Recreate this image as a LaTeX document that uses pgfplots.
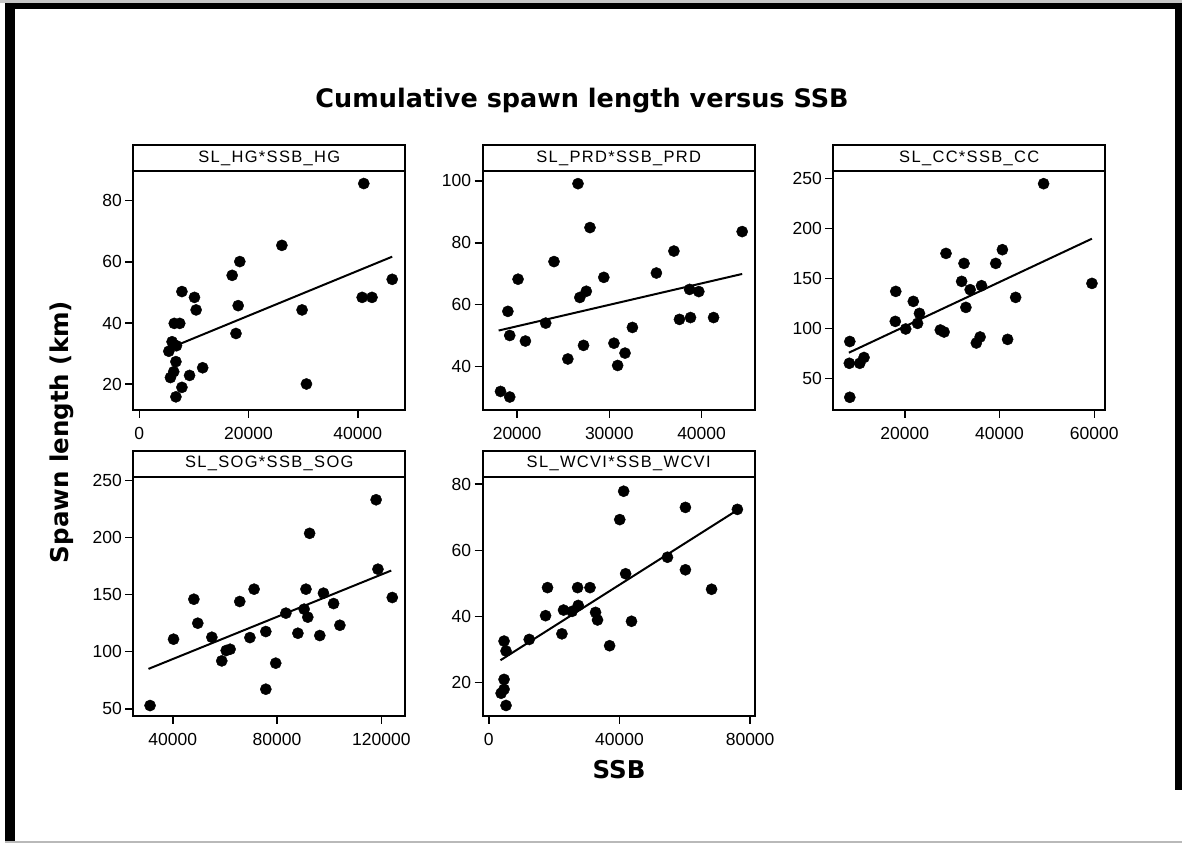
\documentclass[border=0pt]{standalone}
\usepackage{fontspec}
\setmainfont{Liberation Sans}
\newfontfamily\headfont{DejaVu Sans}
\newfontfamily\stripfont[LetterSpace=8]{Liberation Sans}
\usepackage{pgfplots}
\pgfplotsset{compat=1.18}
\usetikzlibrary{calc}

% spawn length (km) against SSB, one table per region
\pgfplotstableread{
x y
41100 85.6
26100 65.4
18400 60.1
17000 55.6
46300 54.3
7800 50.3
10100 48.4
10400 44.3
18100 45.7
40800 48.4
42600 48.4
29800 44.3
6400 39.9
7400 39.9
17700 36.6
6000 33.9
5400 30.8
6800 32.6
6700 27.4
6300 24.1
5700 22.2
9200 22.9
11600 25.4
30600 20.1
7800 19.0
6700 15.9
}\hg
\pgfplotstableread{
x y
26600 99.1
27900 84.9
44400 83.6
37000 77.3
24000 73.9
35100 70.2
20100 68.2
29400 68.8
27500 64.3
26800 62.3
38700 64.9
39700 64.2
19000 57.8
23100 54.0
37600 55.2
38800 55.8
41300 55.8
32500 52.6
19200 50.0
20900 48.2
27200 46.8
30500 47.5
31700 44.3
25500 42.4
30900 40.3
18200 31.9
19200 30.1
}\prd
\pgfplotstableread{
x y
49300 245
59500 145.3
40600 179
39200 165.3
32500 165.3
28700 175.3
32000 147.3
33800 139
36200 143
32900 121.3
43400 131.3
18100 137.3
21800 127.3
23100 115.3
22700 105.3
18000 107.3
20200 99.7
27500 98.7
28300 96.7
35100 85.7
35900 91.7
41700 89.3
8400 87.2
8300 65.4
10500 65.4
11400 71.2
8400 31.4
}\cc
\pgfplotstableread{
x y
31300 52.8
40300 110.9
48100 145.9
49600 124.9
55000 112.6
58800 91.9
60500 101
62000 102.1
65700 143.9
71200 154.7
69600 112.3
75700 117.6
75700 67.1
79500 89.9
83400 133.7
88000 116.1
90400 137.2
91100 154.7
91800 130.2
96400 114.1
97800 151.2
101700 142.1
104100 123.1
118700 172.2
124200 147.4
118000 233.0
92500 203.6
}\sog
\pgfplotstableread{
x y
41300 77.9
40100 69.3
60200 73.0
76100 72.4
54700 57.9
60200 54.1
41900 52.9
68200 48.2
18000 48.7
27200 48.7
31000 48.7
17400 40.2
22900 41.9
25500 41.5
27400 43.3
32700 41.2
33300 38.9
43700 38.5
22400 34.7
37000 31.1
12400 33.0
4700 32.5
5300 29.5
4700 20.9
4700 17.9
3800 16.7
5300 13.0
}\wcvi

\pgfplotsset{
  panel/.style={
    scale only axis, width=272pt, height=239pt,
    anchor=south west,
    axis line style={line width=2pt},
    tick style={line width=1.6pt, black},
    major tick length=8pt,
    tick align=outside,
    xtick pos=bottom, ytick pos=left,
    tick label style={font=\fontsize{17.5}{20}\selectfont},
    xticklabel style={yshift=-6pt},
    /pgf/number format/assume math mode=true,
    /pgf/number format/fixed,
    /pgf/number format/precision=0,
    /pgf/number format/1000 sep={},
    scaled ticks=false,
    clip=false,
  },
  dots/.style={only marks, mark=*, mark size=5.6pt, black},
  fit/.style={no marks, black, line width=2pt},
}

\newcommand{\strip}[2]{%
  \draw[line width=2pt, fill=white] (#1.north west) rectangle ([yshift=26pt]#1.north east);
  \node[font=\stripfont\fontsize{16.5}{18}\selectfont, inner sep=0pt]
    at ([yshift=13pt]$(#1.north west)!0.5!(#1.north east)$) {#2};%
}

\begin{document}
\begin{tikzpicture}[x=1pt, y=1pt]
% page frame
\useasboundingbox (0,0) rectangle (1182,846);
\fill[white] (0,0) rectangle (1182,846);
\fill[gray!45] (0,843) rectangle (1182,846);
\fill[black] (5,837) rectangle (1182,843);
\fill[black] (5,3) rectangle (15,843);
\fill[black] (1175,56) rectangle (1182,843);
\fill[gray!55] (5,3) rectangle (1182,5);

% row 1
\begin{axis}[panel, name=hg, at={(133.3pt,436pt)},
  xmin=-1100, xmax=48700, ymin=11.6, ymax=89.7,
  xtick={0,20000,40000}, ytick={20,40,60,80}]
  \addplot[dots] table {\hg};
  \addplot[fit] coordinates {(5400,31.7) (46300,61.7)};
\end{axis}
\strip{hg}{SL\_HG*SSB\_HG}

\begin{axis}[panel, name=prd, at={(482.7pt,436pt)},
  xmin=16270, xmax=45760, ymin=25.9, ymax=103.2,
  xtick={20000,30000,40000}, ytick={40,60,80,100}]
  \addplot[dots] table {\prd};
  \addplot[fit] coordinates {(18000,51.6) (44400,69.9)};
\end{axis}
\strip{prd}{SL\_PRD*SSB\_PRD}

\begin{axis}[panel, name=cc, at={(833.3pt,436pt)},
  xmin=4920, xmax=62320, ymin=18.7, ymax=257.7,
  xtick={20000,40000,60000}, ytick={50,100,150,200,250}]
  \addplot[dots] table {\cc};
  \addplot[fit] coordinates {(8200,76) (59500,190)};
\end{axis}
\strip{cc}{SL\_CC*SSB\_CC}

% row 2
\begin{axis}[panel, name=sog, at={(133.3pt,130.3pt)},
  xmin=24870, xmax=129200, ymin=43.9, ymax=253.2,
  xtick={40000,80000,120000}, ytick={50,100,150,200,250}]
  \addplot[dots] table {\sog};
  \addplot[fit] coordinates {(30700,84.9) (123800,171)};
\end{axis}
\strip{sog}{SL\_SOG*SSB\_SOG}

\begin{axis}[panel, name=wcvi, at={(482.7pt,130.3pt)},
  xmin=-1835, xmax=81400, ymin=9.9, ymax=82.3,
  xtick={0,40000,80000}, ytick={20,40,60,80}]
  \addplot[dots] table {\wcvi};
  \addplot[fit] coordinates {(3600,26.7) (76100,72.2)};
\end{axis}
\strip{wcvi}{SL\_WCVI*SSB\_WCVI}

% titles
\node[font=\headfont\bfseries\fontsize{25.5}{28}\selectfont] at (582,745) {Cumulative spawn length versus SSB};
\node[font=\headfont\bfseries\fontsize{24.5}{28}\selectfont, rotate=90] at (62,414) {Spawn length (km)};
\node[font=\headfont\bfseries\fontsize{24.5}{28}\selectfont] at (619,76) {SSB};
\end{tikzpicture}
\end{document}
